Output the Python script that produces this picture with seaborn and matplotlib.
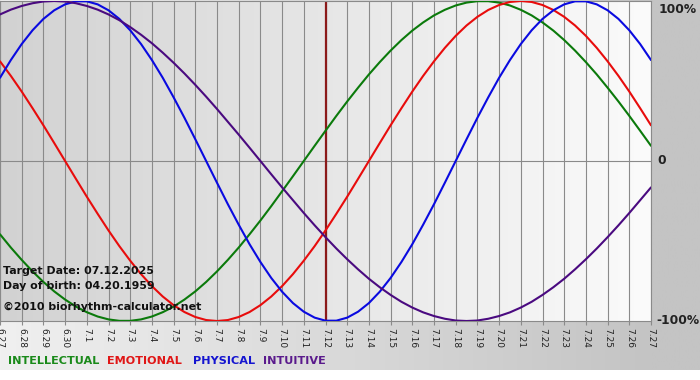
import numpy as np
import pandas as pd
import matplotlib
matplotlib.use("Agg")
import matplotlib.pyplot as plt
import matplotlib.transforms as mtransforms
from matplotlib.colors import LinearSegmentedColormap
import seaborn as sns

# day labels along the bottom axis
days = ["6.27", "6.28", "6.29", "6.30", "7.1", "7.2", "7.3", "7.4", "7.5",
        "7.6", "7.7", "7.8", "7.9", "7.10", "7.11", "7.12", "7.13", "7.14",
        "7.15", "7.16", "7.17", "7.18", "7.19", "7.20", "7.21", "7.22",
        "7.23", "7.24", "7.25", "7.26", "7.27"]
target_day = "7.12"

# rhythm values (fraction of 100%), read every half day from 6.27 to 7.27
intellectual = [-0.458, -0.541, -0.618, -0.690, -0.756, -0.815, -0.866,
                -0.910, -0.945, -0.972, -0.990, -0.999, -0.999, -0.990,
                -0.972, -0.945, -0.910, -0.866, -0.815, -0.756, -0.690,
                -0.618, -0.541, -0.458, -0.372, -0.282, -0.189, -0.095,
                0.000, 0.095, 0.189, 0.282, 0.372, 0.458, 0.541, 0.618,
                0.690, 0.756, 0.815, 0.866, 0.910, 0.945, 0.972, 0.990,
                0.999, 0.999, 0.990, 0.972, 0.945, 0.910, 0.866, 0.815,
                0.756, 0.690, 0.618, 0.541, 0.458, 0.372, 0.282, 0.189,
                0.095]
emotional = [0.623, 0.532, 0.434, 0.330, 0.223, 0.112, 0.000, -0.112,
             -0.223, -0.330, -0.434, -0.532, -0.623, -0.707, -0.782, -0.847,
             -0.901, -0.944, -0.975, -0.994, -1.000, -0.994, -0.975, -0.944,
             -0.901, -0.847, -0.782, -0.707, -0.623, -0.532, -0.434, -0.330,
             -0.223, -0.112, 0.000, 0.112, 0.223, 0.330, 0.434, 0.532,
             0.623, 0.707, 0.782, 0.847, 0.901, 0.944, 0.975, 0.994, 1.000,
             0.994, 0.975, 0.944, 0.901, 0.847, 0.782, 0.707, 0.623, 0.532,
             0.434, 0.330, 0.223]
physical = [0.520, 0.631, 0.731, 0.817, 0.888, 0.942, 0.979, 0.998, 0.998,
            0.979, 0.942, 0.888, 0.817, 0.731, 0.631, 0.520, 0.398, 0.270,
            0.136, 0.000, -0.136, -0.270, -0.398, -0.520, -0.631, -0.731,
            -0.817, -0.888, -0.942, -0.979, -0.998, -0.998, -0.979, -0.942,
            -0.888, -0.817, -0.731, -0.631, -0.520, -0.398, -0.270, -0.136,
            0.000, 0.136, 0.270, 0.398, 0.520, 0.631, 0.731, 0.817, 0.888,
            0.942, 0.979, 0.998, 0.998, 0.979, 0.942, 0.888, 0.817, 0.731,
            0.631]
intuitive = [0.916, 0.946, 0.969, 0.986, 0.997, 1.000, 0.997, 0.986, 0.969,
             0.946, 0.916, 0.880, 0.837, 0.789, 0.736, 0.677, 0.614, 0.547,
             0.476, 0.402, 0.325, 0.245, 0.165, 0.083, 0.000, -0.083,
             -0.165, -0.245, -0.325, -0.402, -0.476, -0.547, -0.614, -0.677,
             -0.736, -0.789, -0.837, -0.880, -0.916, -0.946, -0.969, -0.986,
             -0.997, -1.000, -0.997, -0.986, -0.969, -0.946, -0.916, -0.880,
             -0.837, -0.789, -0.736, -0.677, -0.614, -0.547, -0.476, -0.402,
             -0.325, -0.245, -0.165]

rhythms = ["INTELLECTUAL", "EMOTIONAL", "PHYSICAL", "INTUITIVE"]
line_colors = {"INTELLECTUAL": "#0b7a0b", "EMOTIONAL": "#e80c0c",
               "PHYSICAL": "#0a0ae0", "INTUITIVE": "#4a0a80"}
label_colors = {"INTELLECTUAL": "#1a8a1a", "EMOTIONAL": "#e01616",
                "PHYSICAL": "#1414d0", "INTUITIVE": "#5a1a8c"}

steps = np.arange(len(physical)) / 2.0  # half-day sample positions
df = pd.DataFrame({
    "day": np.tile(steps, 4),
    "value": intellectual + emotional + physical + intuitive,
    "rhythm": [r for r in rhythms for _ in steps],
})

sns.set_theme(style="white")
plt.rcParams['font.family'] = ['DejaVu Sans']

W, H = 700, 380
fig = plt.figure(figsize=(W / 100, H / 100), dpi=100)
fig.patch.set_facecolor("white")

# grey backdrop behind axis labels
bg = fig.add_axes([0, 10 / H, 1, 370 / H])
bg.axis("off")
bg_cmap = LinearSegmentedColormap.from_list(
    "bg", [(0, "#f0f0f0"), (0.93, "#c4c4c4"), (1, "#c4c4c4")])
bg.imshow(np.linspace(0, 1, 256)[None, :], cmap=bg_cmap, aspect="auto",
          extent=[0, 1, 0, 1])

ax = fig.add_axes([0, 59 / H, 651 / W, 320 / H])
plot_cmap = LinearSegmentedColormap.from_list("pl", ["#d2d2d2", "#fbfbfb"])
ax.imshow(np.linspace(0, 1, 256)[None, :], cmap=plot_cmap, aspect="auto",
          extent=[0, len(days) - 1, -1, 1], zorder=0)

sns.lineplot(data=df, x="day", y="value", hue="rhythm", palette=line_colors,
             hue_order=rhythms, linewidth=1.5, legend=False, ax=ax, zorder=3)

ax.axvline(days.index(target_day), color="#8b1a1a", lw=1.6, zorder=2)
ax.axhline(0, color="#8a8a8a", lw=0.8, zorder=1)

ax.set_xlim(0, len(days) - 1)
ax.set_ylim(-1, 1)
ax.set_xticks(range(len(days)))
ax.set_xticklabels(days, rotation=270, fontsize=6.5, color="#222222")
ax.tick_params(axis="x", bottom=True, length=3, width=0.8, color="#8a8a8a",
               pad=2)
ax.set_yticks([])
ax.grid(axis="x", color="#8a8a8a", lw=0.8)
ax.set_xlabel("")
ax.set_ylabel("")
for sp in ax.spines.values():
    sp.set_color("#8a8a8a")
    sp.set_linewidth(0.8)

# percentage labels on the right
trans = mtransforms.blended_transform_factory(ax.transAxes, ax.transData)
ax.text(1.012, 0.99, "100%", transform=trans, ha="left", va="top",
        fontsize=8.8, weight="bold", color="#222222")
ax.text(1.01, 0, "0", transform=trans, ha="left", va="center",
        fontsize=8.8, weight="bold", color="#222222")
ax.text(1.009, -1, "-100%", transform=trans, ha="left", va="center",
        fontsize=8.8, weight="bold", color="#222222")

# info text inside the plot
info = ["Target Date: 07.12.2025", "Day of birth: 04.20.1959",
        "\u00a92010 biorhythm-calculator.net"]
for txt, yp in zip(info, [271, 286, 307]):
    fig.text(3 / W, 1 - yp / H, txt, ha="left", va="center", fontsize=7.9,
             weight="bold", color="#111111")

# legend row
for name, xp in zip(rhythms, [8, 107, 193, 263]):
    fig.text(xp / W, 1 - 361 / H, name, ha="left", va="center",
             fontsize=8.1, weight="bold", color=label_colors[name])

fig.savefig("out.png", dpi=100)
